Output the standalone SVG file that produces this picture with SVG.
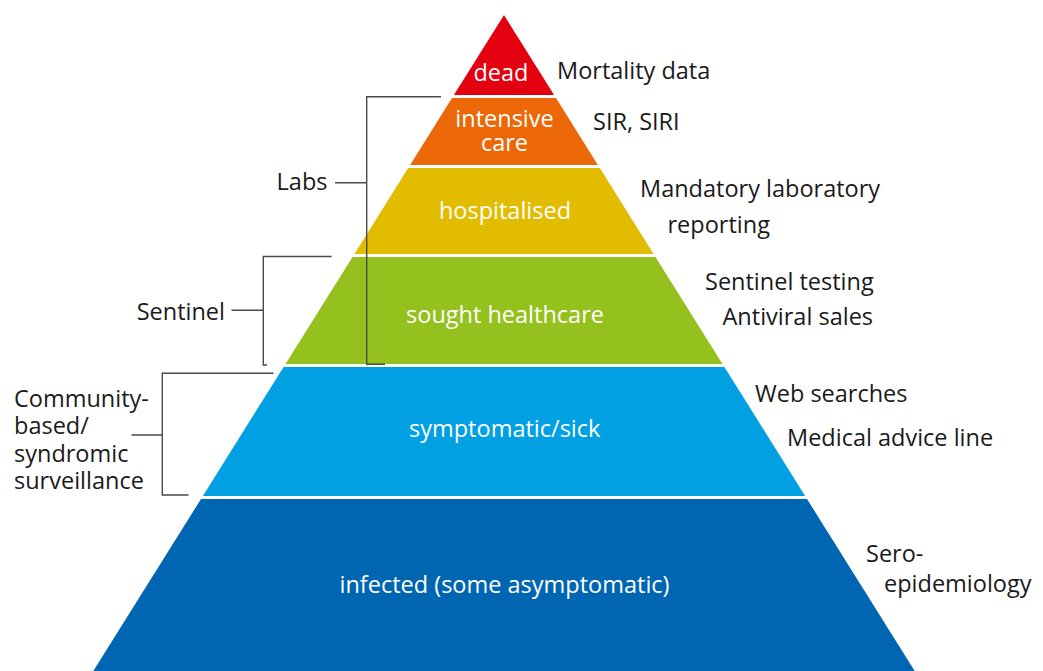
<svg xmlns="http://www.w3.org/2000/svg" width="1043" height="671" viewBox="0 0 1043 671">
<style>
text{font-family:"Open Sans","Noto Sans","Liberation Sans",sans-serif;font-size:23.5px}
.in{fill:#ffffff;text-anchor:middle}
.lbl{fill:#1a1a1a}
.end{text-anchor:end}
.br{fill:none;stroke:#4a4a4a;stroke-width:1.4}
</style>
<rect width="1043" height="671" fill="#ffffff"/>
<g id="dead"><polygon points="504,15 554.1,95 453.9,95" fill="#E3000F"/><text class="in" x="501" y="80.5">dead</text></g>
<g id="intensive"><polygon points="452,98 556,98 597.9,165 410.1,165" fill="#EC6707"/><text class="in" x="504.5" y="127">intensive</text><text class="in" x="504.5" y="151">care</text></g>
<g id="hospitalised"><polygon points="408.2,168 599.8,168 653.6,254 354.4,254" fill="#E2BC00"/><text class="in" x="505" y="218.5">hospitalised</text></g>
<g id="sought"><polygon points="352.5,257 655.5,257 722.5,364 285.5,364" fill="#95C11E"/><text class="in" x="505" y="322.5">sought healthcare</text></g>
<g id="symptomatic"><polygon points="283.6,367 724.4,367 805.1,496 202.9,496" fill="#00A0E3"/><text class="in" x="504.7" y="437">symptomatic/sick</text></g>
<g id="infected"><polygon points="201,499 807,499 914.7,671 93.3,671" fill="#0066B1"/><text class="in" x="504.5" y="592.5">infected (some asymptomatic)</text></g>
<g id="connectors">
<path class="br" d="M441,96.7 H366.7 V364.3 H385 M335,182.7 H366.7"/>
<path class="br" d="M331.5,256.5 H263.3 V365 H267 M231.5,310.3 H263.3"/>
<path class="br" d="M273.5,373.3 H162.3 V495 H188.5 M131.5,435 H162.3"/>
</g>
<g id="right-labels">
<text class="lbl" x="557" y="78.5">Mortality data</text>
<text class="lbl" x="593" y="129.5">SIR, SIRI</text>
<text class="lbl" x="640" y="197">Mandatory laboratory</text>
<text class="lbl" x="667.5" y="232.5">reporting</text>
<text class="lbl" x="705" y="290">Sentinel testing</text>
<text class="lbl" x="722.5" y="325">Antiviral sales</text>
<text class="lbl" x="755" y="401.5">Web searches</text>
<text class="lbl" x="787" y="445.5">Medical advice line</text>
<text class="lbl" x="866" y="561.5">Sero-</text>
<text class="lbl" x="884" y="591.5">epidemiology</text>
</g>
<g id="left-labels">
<text class="lbl end" x="327.5" y="189.5">Labs</text>
<text class="lbl end" x="225" y="320">Sentinel</text>
<text class="lbl" x="14" y="406.5">Community-</text>
<text class="lbl" x="14" y="434">based/</text>
<text class="lbl" x="14" y="461.5">syndromic</text>
<text class="lbl" x="14" y="488.5">surveillance</text>
</g>
</svg>
